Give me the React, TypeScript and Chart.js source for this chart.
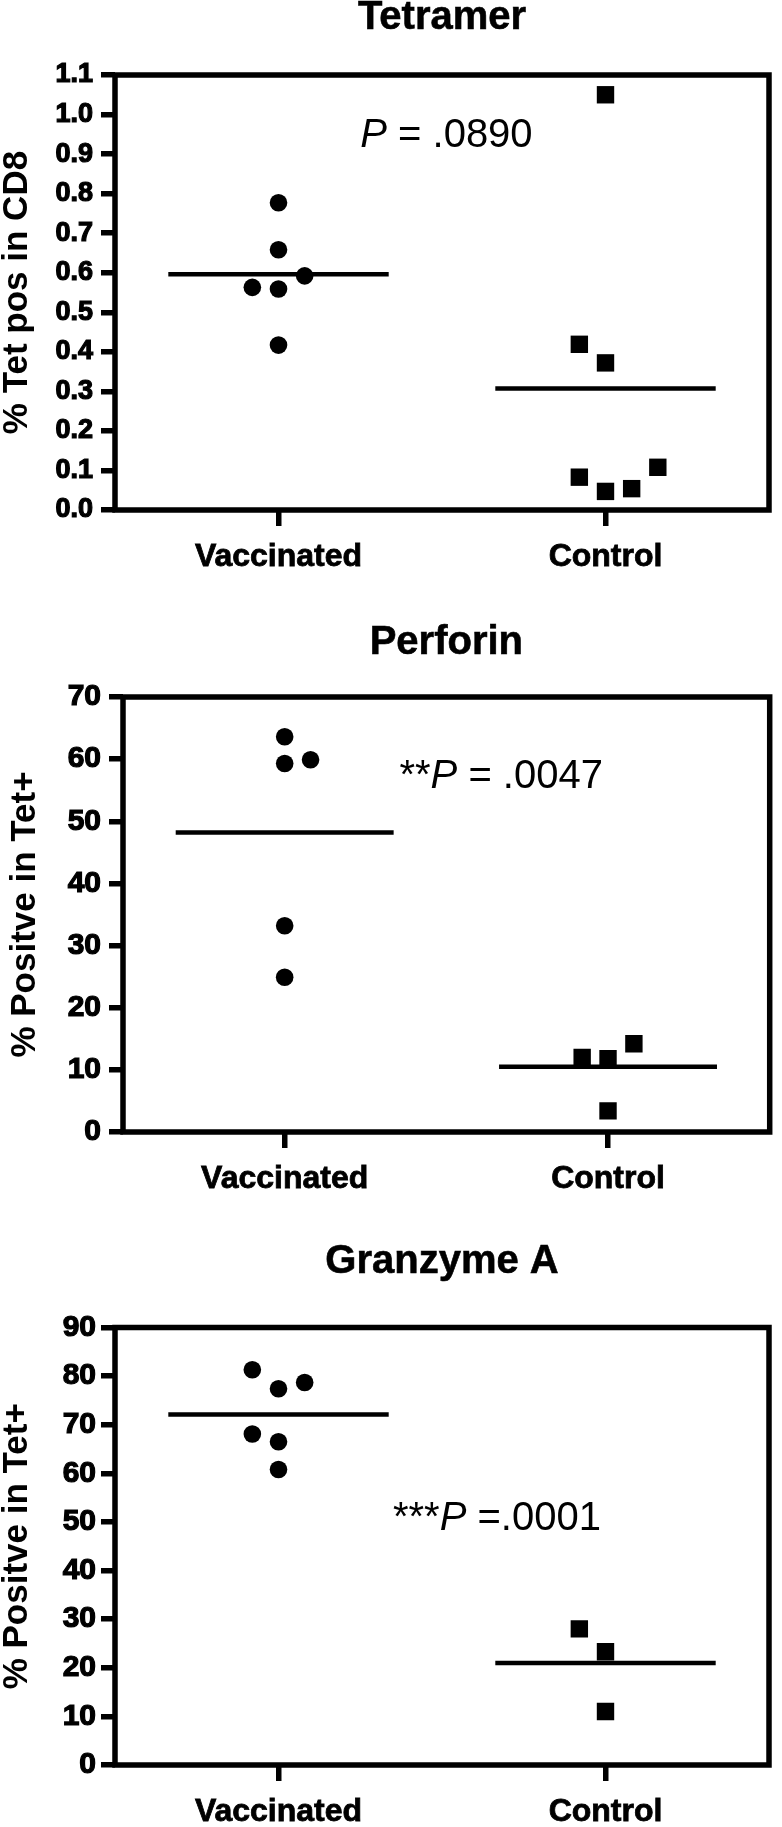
import React, { useEffect, useRef } from "react";
import { Chart, registerables } from "chart.js";

Chart.register(...registerables);

const FONT = "'Liberation Sans', Arial, Helvetica, sans-serif";

const categories = ["Vaccinated", "Control"];

// ---- Tetramer ----
const tetVaccValues = [0.777, 0.658, 0.592, 0.563, 0.559, 0.417];
const tetVaccX = [1, 1, 1.08, 0.92, 1, 1];
const tetCtrlValues = [1.05, 0.419, 0.372, 0.083, 0.047, 0.054, 0.108];
const tetCtrlX = [2, 1.92, 2, 1.92, 2, 2.08, 2.16];
const tetMeans = [0.596, 0.307];
const tetTicks = [0, 0.1, 0.2, 0.3, 0.4, 0.5, 0.6, 0.7, 0.8, 0.9, 1.0, 1.1];

// ---- Perforin ----
const perVaccValues = [63.6, 59.3, 59.9, 33.2, 24.9];
const perVaccX = [1, 1, 1.08, 1, 1];
const perCtrlValues = [12.0, 11.8, 14.2, 3.4];
const perCtrlX = [1.92, 2, 2.08, 2];
const perMeans = [48.2, 10.5];
const perTicks = [0, 10, 20, 30, 40, 50, 60, 70];

// ---- Granzyme A ----
const graVaccValues = [81.3, 77.4, 78.7, 68.1, 66.5, 60.8];
const graVaccX = [0.92, 1, 1.08, 0.92, 1, 1];
const graCtrlValues = [28.0, 23.3, 11.0];
const graCtrlX = [1.92, 2, 2];
const graMeans = [72.1, 21.0];
const graTicks = [0, 10, 20, 30, 40, 50, 60, 70, 80, 90];

const MEAN_HALF = 0.337;

interface PanelCfg {
  title: string;
  titleY: number;
  yTitle: string;
  ticks: number[];
  decimals: number;
  tickFont: number;
  tickPad: number;
  vaccX: number[];
  vaccY: number[];
  ctrlX: number[];
  ctrlY: number[];
  means: number[];
  pPre: string;
  pPost: string;
  pX: number;
  pY: number;
  top: number;
  height: number;
  padTop: number;
  padLeft: number;
  padRight: number;
  yWidth: number;
  xHeight: number;
}

const panels: PanelCfg[] = [
  {
    title: "Tetramer",
    titleY: 17.5,
    yTitle: "% Tet pos in CD8",
    ticks: tetTicks,
    decimals: 1,
    tickFont: 27,
    tickPad: 8,
    vaccX: tetVaccX,
    vaccY: tetVaccValues,
    ctrlX: tetCtrlX,
    ctrlY: tetCtrlValues,
    means: tetMeans,
    pPre: "",
    pPost: " = .0890",
    pX: 1.25,
    pY: 0.918,
    top: 0,
    height: 590,
    padTop: 75,
    padLeft: 0,
    padRight: 13,
    yWidth: 115,
    xHeight: 80,
  },
  {
    title: "Perforin",
    titleY: 43,
    yTitle: "% Positve in Tet+",
    ticks: perTicks,
    decimals: 0,
    tickFont: 30,
    tickPad: 8,
    vaccX: perVaccX,
    vaccY: perVaccValues,
    ctrlX: perCtrlX,
    ctrlY: perCtrlValues,
    means: perMeans,
    pPre: "**",
    pPost: " = .0047",
    pX: 1.355,
    pY: 55.3,
    top: 600,
    height: 612,
    padTop: 97,
    padLeft: 8,
    padRight: 5,
    yWidth: 115,
    xHeight: 80,
  },
  {
    title: "Granzyme A",
    titleY: 50,
    yTitle: "% Positve in Tet+",
    ticks: graTicks,
    decimals: 0,
    tickFont: 30,
    tickPad: 5,
    vaccX: graVaccX,
    vaccY: graVaccValues,
    ctrlX: graCtrlX,
    ctrlY: graCtrlValues,
    means: graMeans,
    pPre: "***",
    pPost: " =.0001",
    pX: 1.35,
    pY: 48.4,
    top: 1212,
    height: 615,
    padTop: 115.5,
    padLeft: 0,
    padRight: 13,
    yWidth: 115,
    xHeight: 62,
  },
];

function Panel({ cfg }: { cfg: PanelCfg }) {
  const ref = useRef<HTMLCanvasElement | null>(null);

  useEffect(() => {
    if (!ref.current) return;
    const deco = {
      id: "deco" + cfg.title.replace(/\s/g, ""),
      beforeDatasetsDraw(chart: any) {
        const { ctx, chartArea: ca } = chart;
        ctx.save();
        ctx.strokeStyle = "#000";
        ctx.lineWidth = 5.5;
        ctx.strokeRect(ca.left, ca.top, ca.right - ca.left, ca.bottom - ca.top);
        ctx.restore();
      },
      afterDraw(chart: any) {
        const { ctx, chartArea: ca, scales } = chart;
        ctx.save();
        ctx.fillStyle = "#000";
        ctx.strokeStyle = "#000";
        ctx.lineWidth = 0.6;
        ctx.font = `bold 40px ${FONT}`;
        ctx.textAlign = "center";
        ctx.textBaseline = "middle";
        ctx.fillText(cfg.title, (ca.left + ca.right) / 2, cfg.titleY);
        ctx.strokeText(cfg.title, (ca.left + ca.right) / 2, cfg.titleY);

        const x0 = scales.x.getPixelForValue(cfg.pX);
        const y0 = scales.y.getPixelForValue(cfg.pY);
        ctx.textAlign = "left";
        ctx.textBaseline = "alphabetic";
        const reg = `40px ${FONT}`;
        const it = `italic 40px ${FONT}`;
        let x = x0;
        ctx.font = reg;
        if (cfg.pPre) {
          ctx.fillText(cfg.pPre, x, y0);
          x += ctx.measureText(cfg.pPre).width;
        }
        ctx.font = it;
        ctx.fillText("P", x, y0);
        x += ctx.measureText("P").width;
        ctx.font = reg;
        ctx.fillText(cfg.pPost, x, y0);
        ctx.restore();
      },
    };

    const vaccData = cfg.vaccY.map((v, i) => ({ x: cfg.vaccX[i], y: v }));
    const ctrlData = cfg.ctrlY.map((v, i) => ({ x: cfg.ctrlX[i], y: v }));
    const meanSets = cfg.means.map((m, i) => ({
      type: "line" as const,
      data: [
        { x: i + 1 - MEAN_HALF, y: m },
        { x: i + 1 + MEAN_HALF, y: m },
      ],
      borderColor: "#000",
      borderWidth: 4.5,
      pointRadius: 0,
      showLine: true,
      fill: false,
    }));

    const chart = new Chart(ref.current, {
      type: "scatter",
      data: {
        datasets: [
          {
            data: vaccData,
            pointStyle: "circle",
            pointRadius: 8.8,
            backgroundColor: "#000",
            borderColor: "#000",
            borderWidth: 0,
          },
          {
            data: ctrlData,
            pointStyle: "rect",
            pointRadius: 12.3,
            backgroundColor: "#000",
            borderColor: "#000",
            borderWidth: 0,
          },
          ...meanSets,
        ] as any,
      },
      options: {
        responsive: false,
        animation: false,
        events: [],
        devicePixelRatio: 1,
        layout: {
          padding: { top: cfg.padTop, left: cfg.padLeft, right: cfg.padRight, bottom: 0 },
        },
        plugins: {
          legend: { display: false },
          tooltip: { enabled: false },
          title: { display: false },
        },
        scales: {
          x: {
            type: "linear",
            min: 0.5,
            max: 2.5,
            border: { display: false },
            grid: {
              display: true,
              drawOnChartArea: false,
              drawTicks: true,
              tickLength: 16,
              lineWidth: 5.5,
              color: "#000",
            },
            afterBuildTicks: (s: any) => {
              s.ticks = categories.map((_, i) => ({ value: i + 1 }));
            },
            afterFit: (s: any) => {
              s.height = cfg.xHeight;
            },
            ticks: {
              autoSkip: false,
              maxRotation: 0,
              padding: 15,
              color: "#000",
              textStrokeColor: "#000",
              textStrokeWidth: 0.8,
              font: { family: FONT, size: 32, weight: "bold", lineHeight: 1 },
              callback: (v: any) => categories[Math.round(Number(v)) - 1] ?? "",
            },
          },
          y: {
            type: "linear",
            min: cfg.ticks[0],
            max: cfg.ticks[cfg.ticks.length - 1],
            border: { display: false },
            grid: {
              display: true,
              drawOnChartArea: false,
              drawTicks: true,
              tickLength: 14,
              lineWidth: 5.5,
              color: "#000",
            },
            afterBuildTicks: (s: any) => {
              s.ticks = cfg.ticks.map((v) => ({ value: v }));
            },
            afterFit: (s: any) => {
              s.width = cfg.yWidth;
            },
            ticks: {
              autoSkip: false,
              padding: cfg.tickPad,
              color: "#000",
              textStrokeColor: "#000",
              textStrokeWidth: 1.2,
              font: { family: FONT, size: cfg.tickFont, weight: "bold", lineHeight: 1.2 },
              callback: (v: any) => Number(v).toFixed(cfg.decimals),
            },
            title: {
              display: true,
              text: cfg.yTitle,
              color: "#000",
              padding: 0,
              font: { family: FONT, size: 35, weight: "bold", lineHeight: 1 },
            },
          },
        },
      },
      plugins: [deco],
    } as any);

    return () => chart.destroy();
  }, [cfg]);

  return (
    <canvas
      ref={ref}
      width={782}
      height={cfg.height}
      style={{ position: "absolute", left: 0, top: cfg.top, display: "block" }}
    />
  );
}

export default function App() {
  return (
    <div
      style={{
        position: "absolute",
        left: 0,
        top: 0,
        width: 782,
        height: 1827,
        background: "#fff",
        overflow: "hidden",
      }}
    >
      {panels.map((p) => (
        <Panel key={p.title} cfg={p} />
      ))}
    </div>
  );
}
